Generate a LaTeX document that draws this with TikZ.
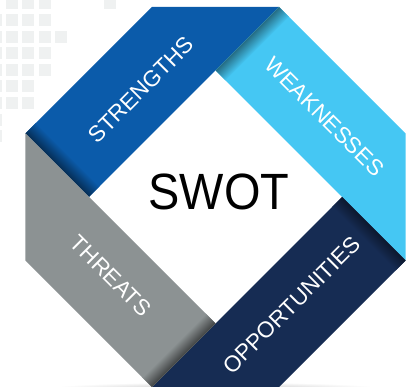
\documentclass[tikz,border=0pt]{standalone}
\usepackage{fontspec}
\setmainfont{Liberation Sans}
\begin{document}
\begin{tikzpicture}[x=1pt,y=1pt,
  sq/.style={fill=squaregray},
  band/.style={fill=#1},
  bandlabel/.style={text=white, inner sep=0pt, font=\fontsize{22.5}{22.5}\selectfont},
  title/.style={text=black, inner sep=0pt, font=\fontsize{51}{51}\selectfont}]
\definecolor{swotblue}{HTML}{0B5BAA}
\definecolor{swotsky}{HTML}{45C7F3}
\definecolor{swotnavy}{HTML}{162C53}
\definecolor{swotgray}{HTML}{8C9293}
\definecolor{squaregray}{HTML}{EFF1F1}
\useasboundingbox (-215.5,-190) rectangle (198.5,197);

% decorative square grid, top left
\foreach \r/\cl in {0/{1,2,3,7},1/{0,1,2,3},2/{0,1,2,3,4},3/{0,1,2,3},4/{0,1,2,3},5/{0,1,2},6/{0,1,2},7/{0},8/{0}}{
  \foreach \c in \cl {
    \fill[sq] ({-10.4+16.4*\c-215.5},{199.6-16.6*\r}) rectangle ++(12,-12);
  }
}

% soft ground shadow
\shade[inner color=black!22, outer color=white] (0,-191) ellipse (165 and 6);

% octagon corners and inner diamond
\coordinate (o1) at (-63.5,190);
\coordinate (o2) at (63.5,190);
\coordinate (o3) at (190,63.5);
\coordinate (o4) at (190,-63.5);
\coordinate (o5) at (63.5,-190);
\coordinate (o6) at (-63.5,-190);
\coordinate (o7) at (-190,-63.5);
\coordinate (o8) at (-190,63.5);
\coordinate (iT) at (0,126.5);
\coordinate (iR) at (126.5,0);
\coordinate (iB) at (0,-126.5);
\coordinate (iL) at (-126.5,0);

% bands with a tucked-under shadow at one end
\begin{scope}
  \fill[band=swotblue] (o8) -- (o1) -- (o2) -- (iL) -- cycle;
  \clip (o8) -- (o1) -- (o2) -- (iL) -- cycle;
  \begin{scope}[transform canvas={shift={(-158.25,31.75)},rotate=45}]
    \shade[left color=swotblue!50!black, right color=swotblue] (0,-60) rectangle (15,60);
  \end{scope}
\end{scope}
\begin{scope}
  \fill[band=swotsky] (o2) -- (o3) -- (o4) -- (iT) -- cycle;
  \clip (o2) -- (o3) -- (o4) -- (iT) -- cycle;
  \begin{scope}[transform canvas={shift={(31.75,158.25)},rotate=-45}]
    \shade[left color=swotsky!55!black, right color=swotsky] (0,-60) rectangle (14,60);
  \end{scope}
\end{scope}
\begin{scope}
  \fill[band=swotnavy] (o4) -- (o5) -- (o6) -- (iR) -- cycle;
  \clip (o4) -- (o5) -- (o6) -- (iR) -- cycle;
  \begin{scope}[transform canvas={shift={(158.25,-31.75)},rotate=-135}]
    \shade[left color=swotnavy!55!black, right color=swotnavy] (0,-60) rectangle (14,60);
  \end{scope}
\end{scope}
\begin{scope}
  \fill[band=swotgray] (o6) -- (o7) -- (o8) -- (iB) -- cycle;
  \clip (o6) -- (o7) -- (o8) -- (iB) -- cycle;
  \begin{scope}[transform canvas={shift={(-31.75,-158.25)},rotate=135}]
    \shade[left color=swotgray!45!black, right color=swotgray] (0,-60) rectangle (14,60);
  \end{scope}
\end{scope}

% labels
\node[bandlabel, rotate=45]  (s) at (-74.5,107.5) {STRENGTHS};
\node[bandlabel, rotate=-45] (w) at (109,80.5) {WEAKNESSES};
\node[bandlabel, rotate=45]  (o) at (76,-108) {OPPORTUNITIES};
\node[bandlabel, rotate=-45] (t) at (-104.5,-79) {THREATS};
\node[title] (swot) at (3.5,5.5) {\scalebox{0.92}[1]{SWOT}};
\end{tikzpicture}
\end{document}
